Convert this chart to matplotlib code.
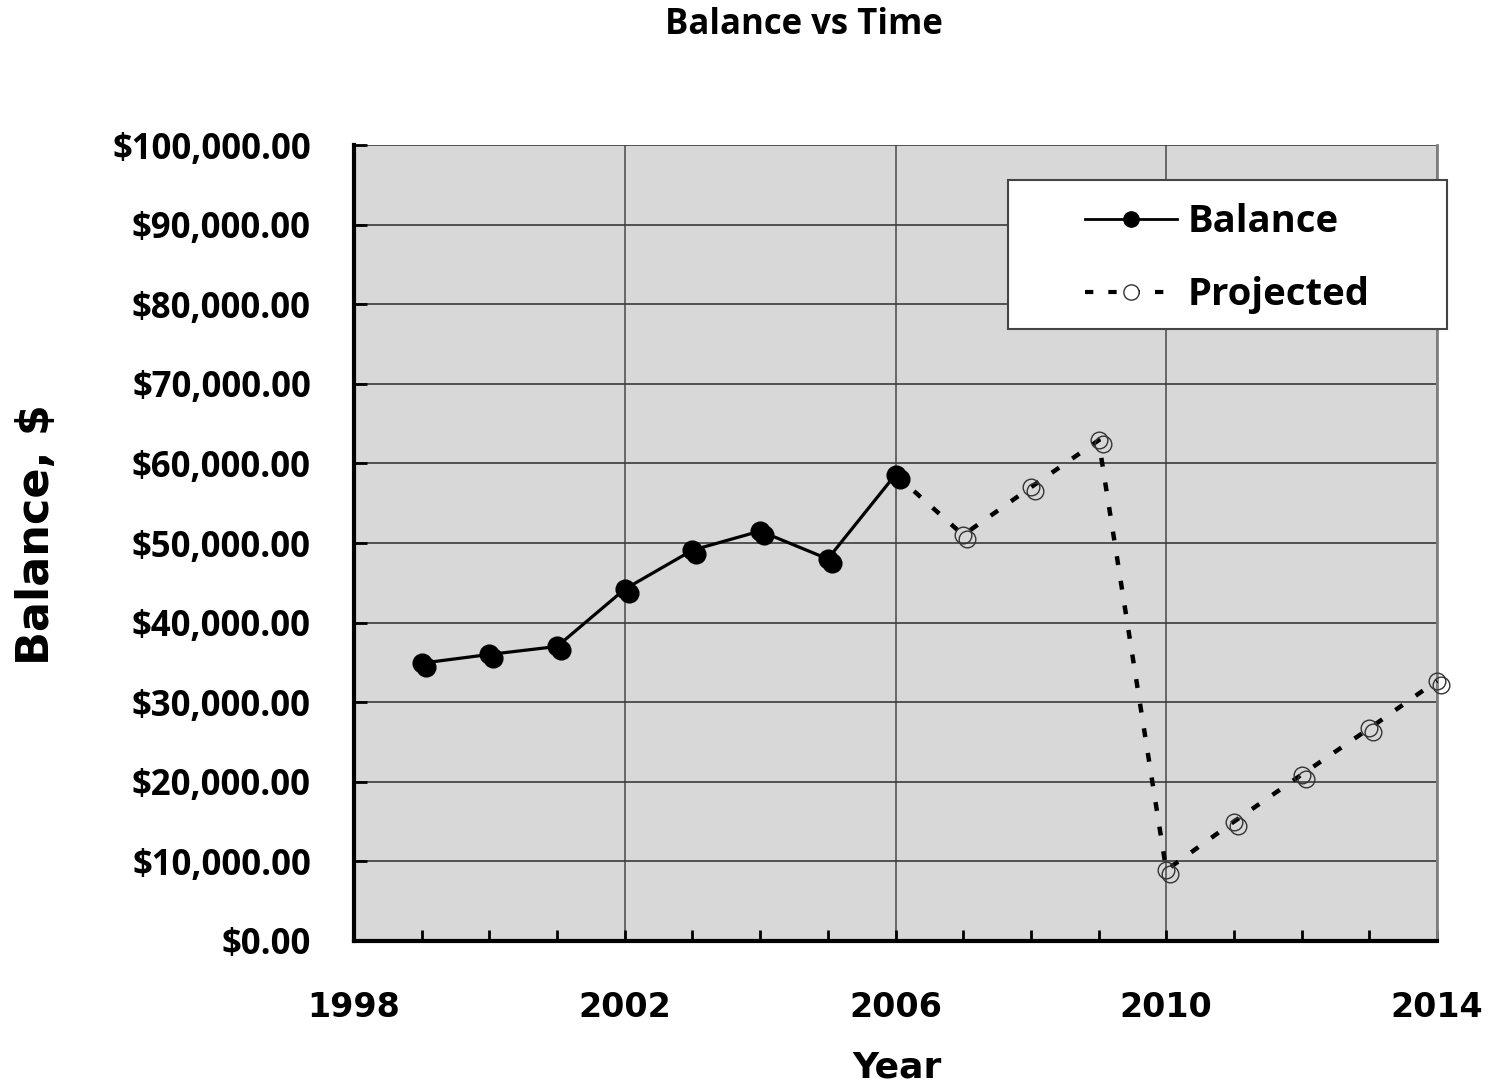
import matplotlib
matplotlib.use("Agg")
import matplotlib.pyplot as plt
from matplotlib import transforms
from matplotlib.patches import Rectangle
from matplotlib.ticker import FuncFormatter, MultipleLocator

# Data
balance_years = [1999, 2000, 2001, 2002, 2003, 2004, 2005, 2006]
balance_values = [34900, 36000, 37000, 44200, 49100, 51500, 48000, 58600]
projected_years = [2006, 2007, 2008, 2009, 2010, 2011, 2012, 2013, 2014]
projected_values = [58600, 51000, 57000, 62900, 8900, 15000, 20900, 26700, 32700]
x_ticks = [1998, 2002, 2006, 2010, 2014]
title = "Balance vs Time"
x_label = "Year"
y_label = "Balance, $"

W, H = 1492, 1091
fig = plt.figure(figsize=(W / 100, H / 100), dpi=100)
ax = fig.add_axes([354 / W, 1 - 941 / H, (1437 - 354) / W, (941 - 145) / H])
ax.set_facecolor("#d8d8d8")

tick_font = "Open Sans"
lab_font = "DejaVu Sans"

# grid
ax.set_axisbelow(True)
ax.yaxis.grid(True, color="#3a3a3a", lw=1.2)
ax.xaxis.grid(True, color="#555555", lw=1.2)

shadow = transforms.offset_copy(ax.transData, fig=fig, x=4, y=-4, units="dots")
dash = (0, (2.0, 3.6))

# Projected line
ax.plot(projected_years, projected_values, color="black", lw=3.2,
        linestyle=dash, zorder=3, clip_on=False)
ax.plot(projected_years[1:], projected_values[1:], linestyle="none",
        marker="o", ms=12, mfc="none", mec="#333333", mew=1.0, zorder=4,
        transform=shadow, clip_on=False)
ax.plot(projected_years[1:], projected_values[1:], linestyle="none",
        marker="o", ms=12, mfc="none", mec="#333333", mew=1.0, zorder=4,
        clip_on=False)

# Balance line
ax.plot(balance_years, balance_values, linestyle="none", marker="o", ms=13.5,
        mfc="black", mec="black", zorder=5, transform=shadow)
ax.plot(balance_years, balance_values, color="black", lw=2.3, marker="o",
        ms=13.5, mfc="black", mec="black", zorder=6)

# legend box
box = Rectangle((1008 / W, 1 - 329 / H), (1447 - 1008) / W, (329 - 180) / H,
                transform=fig.transFigure, facecolor="white",
                edgecolor="#444444", lw=1.5, zorder=9)
fig.patches.append(box)

h1, = ax.plot([], [], color="black", lw=2.0, marker="o", ms=11,
              mfc="black", mec="black", label="Balance")
h2, = ax.plot([], [], color="black", lw=3.0, linestyle=dash,
              marker="o", ms=11, mfc="white", mec="#333333", mew=1.0,
              label="Projected")
leg = fig.legend(handles=[h1, h2], loc="center",
                 bbox_to_anchor=((1008 + 1447) / 2 / W, 1 - (184 + 333) / 2 / H),
                 prop={"family": tick_font, "weight": "bold", "size": 27.5},
                 frameon=False, handlelength=2.4, handletextpad=0.3,
                 borderpad=0, labelspacing=0.92, borderaxespad=0)
leg.set_zorder(10)

ax.set_xlim(1998, 2014)
ax.set_ylim(0, 100000)
ax.set_xticks(x_ticks)
ax.xaxis.set_minor_locator(MultipleLocator(1))
ax.yaxis.set_major_locator(MultipleLocator(10000))
ax.yaxis.set_major_formatter(FuncFormatter(lambda v, p: "${:,.2f}".format(v)))

ax.tick_params(axis="x", which="both", direction="in", length=8, width=2,
               color="black", pad=36)
ax.tick_params(axis="y", which="major", direction="in", length=9, width=2,
               color="black", pad=31)
for lbl in ax.get_xticklabels():
    lbl.set_fontfamily(lab_font)
    lbl.set_fontweight("bold")
    lbl.set_fontsize(24)
for lbl in ax.get_yticklabels():
    lbl.set_fontfamily(tick_font)
    lbl.set_fontweight("bold")
    lbl.set_fontsize(25)

for side in ["left", "bottom"]:
    ax.spines[side].set_linewidth(3)
    ax.spines[side].set_color("black")
ax.spines["right"].set_color("#808080")
ax.spines["right"].set_linewidth(2)
ax.spines["top"].set_visible(False)

fig.text(804 / W, 1 - 25 / H, title, ha="center", va="center",
         fontfamily=tick_font, fontweight="bold", fontsize=25)
fig.text(897 / W, 1 - 1068 / H, x_label, ha="center", va="center",
         fontfamily=lab_font, fontweight="bold", fontsize=26)
fig.text(37 / W, 1 - 535 / H, y_label, ha="center", va="center",
         rotation=90, fontfamily=lab_font, fontweight="bold", fontsize=32)

fig.savefig("out.png", dpi=100)
